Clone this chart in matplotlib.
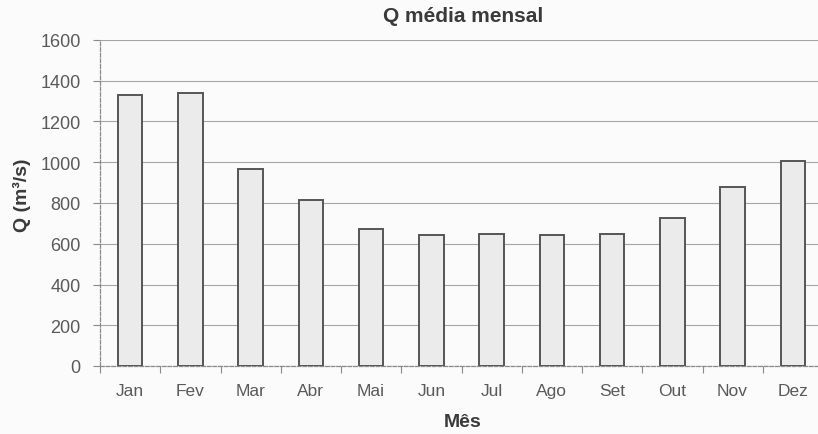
import numpy as np
import matplotlib.pyplot as plt
from matplotlib.ticker import FixedLocator

# Vazão média mensal (m³/s)
meses = ['Jan', 'Fev', 'Mar', 'Abr', 'Mai', 'Jun', 'Jul', 'Ago', 'Set', 'Out', 'Nov', 'Dez']
vazao = [1330, 1340, 965, 815, 670, 645, 650, 645, 650, 725, 880, 1005]
y_ticks = [0, 200, 400, 600, 800, 1000, 1200, 1400, 1600]

plt.rcParams['font.family'] = ['Liberation Sans', 'DejaVu Sans']

fig = plt.figure(figsize=(8.18, 4.35), dpi=100)
fig.patch.set_facecolor('#fbfbfb')

ax = fig.add_axes([100 / 818, 1 - 367 / 435, 723 / 818, 326 / 435])
ax.set_facecolor('#fbfbfb')

x = np.arange(len(meses))
ax.bar(x, vazao, width=0.41, color='#ebebeb', edgecolor='#555555', linewidth=1.4, zorder=3)

ax.set_xlim(-0.5, len(meses) - 0.5)
ax.set_ylim(0, 1600)
ax.set_yticks(y_ticks)
ax.set_xticks(x)
ax.set_xticklabels(meses)
ax.xaxis.set_minor_locator(FixedLocator(np.arange(-0.5, len(meses), 1.0)))

ax.grid(axis='y', color='#a5a5a5', linewidth=0.8, zorder=0)
for s in ['top', 'right']:
    ax.spines[s].set_visible(False)
for s in ['left', 'bottom']:
    ax.spines[s].set_color('#8a8a8a')
    ax.spines[s].set_linewidth(0.9)
    ax.spines[s].set_linestyle((0, (3, 1.5)))

ax.tick_params(axis='y', length=5, width=0.8, color='#8a8a8a', pad=9,
               labelsize=13, labelcolor='#5a5a5a')
ax.tick_params(axis='x', which='major', length=0, pad=12,
               labelsize=12.5, labelcolor='#5a5a5a')
ax.tick_params(axis='x', which='minor', length=5, width=0.8, color='#8a8a8a')

fig.text(463 / 818, 1 - 17 / 435, 'Q média mensal', ha='center', va='center',
         fontsize=15, fontweight='bold', color='#3a3a3a')
fig.text(22 / 818, 1 - 195 / 435, 'Q (m³/s)', ha='center', va='center', rotation=90,
         fontsize=14, fontweight='bold', color='#3a3a3a')
fig.text(463 / 818, 1 - 423 / 435, 'Mês', ha='center', va='center',
         fontsize=14, fontweight='bold', color='#3a3a3a')

fig.savefig('out.png', dpi=100, facecolor=fig.get_facecolor())
